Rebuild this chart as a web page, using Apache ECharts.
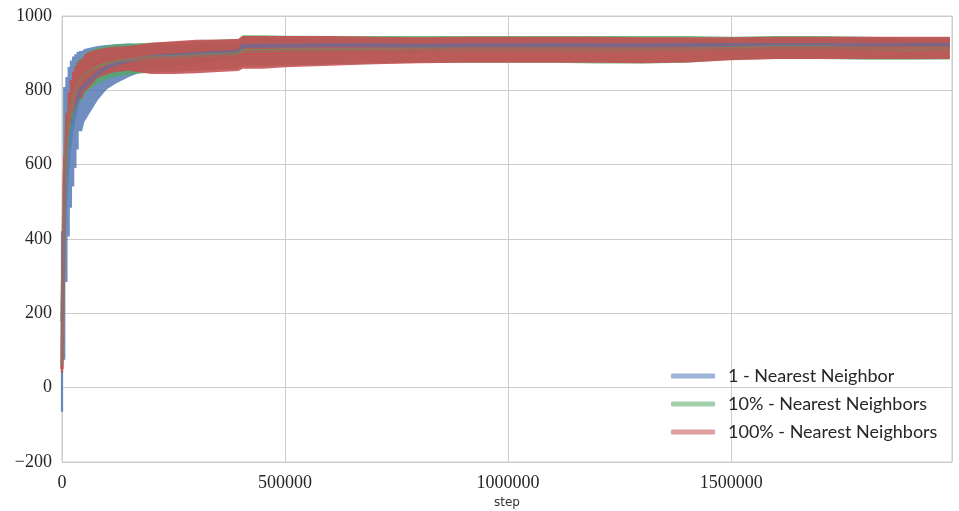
<!DOCTYPE html>
<html>
<head>
<meta charset="utf-8">
<script src="https://cdn.jsdelivr.net/npm/echarts@6/dist/echarts.min.js"></script>
<style>
  html, body { margin: 0; padding: 0; background: #fff; }
  #chart { width: 959px; height: 511px; }
</style>
</head>
<body>
<div id="chart"></div>
<script>
// training steps at which the reward was logged
const steps = [0, 5000, 10000, 15000, 20000, 25000, 30000, 35000, 40000,
  50000, 60000, 80000, 100000, 120000, 150000,
  200000, 250000, 300000, 350000, 395000,
  405000, 450000, 500000,
  600000, 700000, 800000, 900000, 1000000, 1100000, 1200000, 1300000,
  1400000, 1500000, 1600000, 1700000, 1800000, 1900000, 1990000]

// 1 - Nearest Neighbor
const blueMean = [178, 442, 560, 635, 682, 716, 744, 772, 798,
  813, 824, 846, 862, 871, 881,
  890, 894, 898, 901, 904,
  919, 920, 920,
  921, 921, 920, 921, 921, 922, 921, 921, 922, 922, 922, 922, 921, 922, 922]
const blueErr = [243, 367, 276, 228, 198, 175, 153, 131, 108,
  98, 90, 73, 60, 53, 45,
  30, 28, 26, 24, 22,
  18, 18, 18,
  17, 17, 17, 17, 17, 17, 17, 17, 17, 17, 17, 17, 17, 17, 17]

// 10% - Nearest Neighbors
const greenMean = [60, 520, 650, 715, 755, 785, 805, 818, 828,
  843, 853, 866, 875, 880, 884,
  888, 890, 893, 896, 898,
  906, 906, 907,
  908, 909, 910, 910, 910, 910, 909, 909, 910, 913, 915, 915, 913, 912, 913]
const greenErr = [10, 70, 70, 68, 66, 64, 62, 60, 58,
  55, 52, 48, 45, 44, 42,
  40, 40, 40, 40, 40,
  42, 42, 40,
  38, 37, 36, 36, 36, 36, 37, 37, 36, 31, 31, 31, 31, 30, 30]

// 100% - Nearest Neighbors
const redMean = [50, 560, 680, 735, 770, 795, 810, 820, 830,
  845, 855, 872, 879, 883, 886,
  886, 888, 891, 893, 895,
  902, 902, 904,
  906, 907, 908, 909, 909, 909, 909, 908, 909, 912, 914, 914, 914, 914, 914]
const redErr = [10, 60, 60, 60, 58, 56, 55, 54, 52,
  50, 48, 38, 36, 34, 33,
  42, 44, 45, 44, 43,
  44, 44, 42,
  40, 37, 35, 35, 35, 35, 35, 35, 34, 31, 30, 30, 30, 30, 30]

const yTicks = { min: -200, max: 1000, interval: 200 }
const xTicks = { min: 0, max: 1995000, interval: 500000 }

const names = ['1 - Nearest Neighbor', '10% - Nearest Neighbors', '100% - Nearest Neighbors']

// the first points are logged densely: draw them as bars, the rest as a band
const N_BARS = 9

// error band drawn as one polygon through the axis scales
function band (key, mean, err, color, opacity) {
  const data = mean.map((m, i) => [steps[i], m - err[i], m + err[i]])
  return {
    name: key + '_band',
    type: 'custom',
    silent: true,
    z: 2,
    data: data,
    encode: { x: 0, y: [1, 2] },
    renderItem: (params, api) => {
      if (params.dataIndex !== 0) return null
      const edge = (i, k) => {
        if (i >= N_BARS) return [[data[i][0], data[i][k]]]
        const half = (data[i + 1][0] - data[i][0]) / 2
        const l = i === 0 ? data[0][0] - half : (data[i - 1][0] + data[i][0]) / 2
        const r = data[i][0] + half
        return [[l, data[i][k]], [r, data[i][k]]]
      }
      let pts = []
      for (let i = 0; i < data.length; i++) pts = pts.concat(edge(i, 1))
      for (let i = data.length - 1; i >= 0; i--) pts = pts.concat(edge(i, 2).reverse())
      return {
        type: 'polygon',
        shape: { points: pts.map(p => api.coord(p)) },
        style: { fill: color, opacity: opacity }
      }
    }
  }
}

function meanLine (name, mean, color) {
  return {
    name: name,
    type: 'line',
    data: mean.map((m, i) => [steps[i], m]),
    showSymbol: false,
    silent: true,
    z: 3,
    color: color,
    lineStyle: { width: 4, color: color }
  }
}

const chart = echarts.init(document.getElementById('chart'))
chart.setOption({
  animation: false,
  grid: {
    left: 62,
    right: 7,
    top: 16,
    bottom: 49,
    show: true,
    borderColor: '#cccccc',
    borderWidth: 1,
    outerBoundsMode: 'none'
  },
  legend: {
    data: names,
    orient: 'vertical',
    left: 671,
    top: 366,
    padding: 0,
    icon: 'roundRect',
    itemWidth: 44,
    itemHeight: 5,
    itemGap: 8,
    textStyle: {
      fontFamily: 'Lato',
      fontSize: 18,
      color: '#262626',
      lineHeight: 20,
      padding: [0, 0, 0, 8]
    }
  },
  xAxis: {
    type: 'value',
    min: xTicks.min,
    max: xTicks.max,
    interval: xTicks.interval,
    name: 'step',
    nameLocation: 'middle',
    nameGap: 32,
    nameTextStyle: { fontFamily: 'DejaVu Sans', fontSize: 12, color: '#333' },
    axisLine: { show: false },
    axisTick: { show: false },
    axisLabel: {
      showMaxLabel: false,
      margin: 12,
      fontFamily: 'Liberation Serif',
      fontSize: 18,
      color: '#262626',
      formatter: v => String(v)
    },
    splitLine: { lineStyle: { color: '#cccccc', width: 1 } }
  },
  yAxis: {
    type: 'value',
    min: yTicks.min,
    max: yTicks.max,
    interval: yTicks.interval,
    axisLine: { show: false },
    axisTick: { show: false },
    axisLabel: {
      margin: 10,
      fontFamily: 'Liberation Serif',
      fontSize: 18,
      color: '#262626',
      formatter: v => (v < 0 ? '\u2212' + (-v) : String(v))
    },
    splitLine: { lineStyle: { color: '#cccccc', width: 1 } }
  },
  series: [
    band('blue', blueMean, blueErr, '#4C72B0', 0.8),
    band('green', greenMean, greenErr, '#55A868', 0.8),
    band('red', redMean, redErr, '#C44E52', 0.88),
    meanLine(names[0], blueMean, 'rgba(76,114,176,0.55)'),
    meanLine(names[1], greenMean, 'rgba(85,168,104,0.55)'),
    meanLine(names[2], redMean, 'rgba(196,78,82,0.55)')
  ]
})
</script>
</body>
</html>
